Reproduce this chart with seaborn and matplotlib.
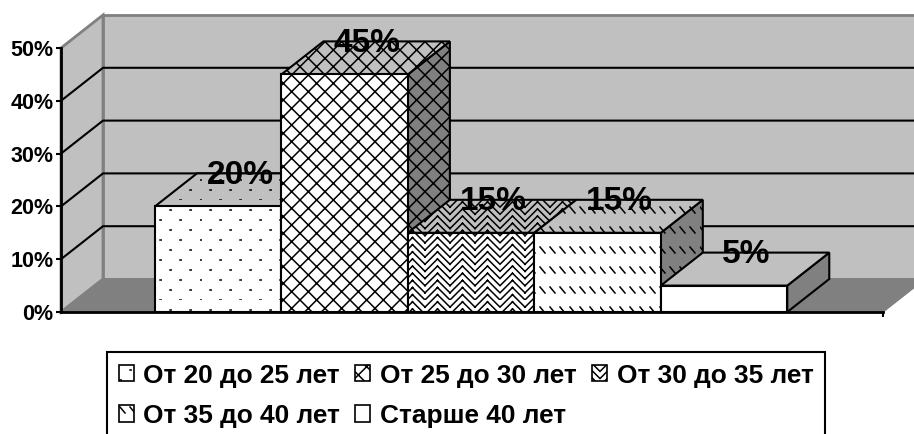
import numpy as np
import pandas as pd
import seaborn as sns
import matplotlib
matplotlib.use("Agg")
import matplotlib.pyplot as plt
from matplotlib import hatch as mhatch
from matplotlib.path import Path
from matplotlib.patches import Patch, Polygon, Rectangle

groups = ["От 20 до 25 лет", "От 25 до 30 лет", "От 30 до 35 лет", "От 35 до 40 лет", "Старше 40 лет"]
values = [20, 45, 15, 15, 5]
bar_labels = ["20%", "45%", "15%", "15%", "5%"]
y_ticks = [0, 10, 20, 30, 40, 50]
hatches = [".", "xx", "o", "O", ""]


# the patterns of the original have no matplotlib hatch, so swap in our own
def dot_segments():
    segs = []
    for row in range(10):
        for col in range(5):
            x = (col + 0.5 * (row % 2)) / 5
            segs.append(((x, row / 10), (x + 0.012, row / 10)))
    return segs


def herringbone_segments():
    segs = []
    for row in range(-2, 14):
        y = row / 14
        for col in range(8):
            x = col / 8
            up = col % 2 == 0
            segs.append(((x, y + (0 if up else 1 / 8)), (x + 1 / 8, y + (1 / 8 if up else 0))))
    return segs


def dash_segments():
    segs = []
    for row in range(5):
        for col in range(10):
            x = col / 10
            y = (row + 0.5) / 5
            segs.append(((x, y + 0.03), (x + 0.05, y - 0.03)))
    return segs


class SegmentHatch(mhatch.HatchPatternBase):
    def __init__(self, hatch, density):
        self.segs = []
        if "." in hatch:
            self.segs += dot_segments()
        if "o" in hatch:
            self.segs += herringbone_segments()
        if "O" in hatch:
            self.segs += dash_segments()
        self.num_vertices = len(self.segs) * 2

    def set_vertices_and_codes(self, vertices, codes):
        vertices[:] = np.array(self.segs).reshape(-1, 2)
        codes[0::2] = Path.MOVETO
        codes[1::2] = Path.LINETO


mhatch._hatch_types[:] = [mhatch.NorthEastHatch, mhatch.SouthEastHatch, SegmentHatch]

sns.set_style("white")
plt.rcParams["font.family"] = ["Liberation Sans", "DejaVu Sans"]
plt.rcParams["font.weight"] = "bold"
plt.rcParams["text.color"] = "black"
plt.rcParams["ytick.color"] = "black"
plt.rcParams["hatch.linewidth"] = 1.1

wall = "#c0c0c0"
floor = "#808080"
lw = 1.5

fig = plt.figure(figsize=(9.14, 4.34), dpi=100)
ax = fig.add_axes([61 / 914, (434 - 312) / 434, 822 / 914, 264 / 434])

df = pd.DataFrame({"group": groups, "value": values})
sns.barplot(data=df, x="group", y="value", hue="group", palette=["white"] * 5,
            width=1, edgecolor="black", linewidth=lw, legend=False, ax=ax)

x0, x1 = -1.243, 5.257
ax.set_xlim(x0, x1)
ax.set_ylim(0, 50)
# depth of the fake 3d box
dx = 42 / 822 * (x1 - x0)
dy = 33 / 264 * 50


def face(pts, fc, ec="black", h=None, z=1, width=lw):
    ax.add_patch(Polygon(pts, closed=True, facecolor=fc, edgecolor=ec, hatch=h,
                         linewidth=width, clip_on=False, zorder=z, joinstyle="miter"))


# walls and floor
top = y_ticks[-1]
far = x1 + dx
face([(x0, 0), (x0 + dx, dy), (x0 + dx, top + dy), (x0, top)], wall, floor, z=0.5, width=2)
face([(x0 + dx, dy), (far, dy), (far, top + dy), (x0 + dx, top + dy)], wall, floor, z=0.6, width=2)
face([(x0, 0), (x0 + dx, dy), (far, dy), (x1, 0)], floor, floor, z=0.7, width=1)
for v in y_ticks[1:-1]:
    ax.plot([x0, x0 + dx, far], [v, v + dy, v + dy], color="black", lw=lw, clip_on=False, zorder=0.8)

# bars go left to right so each one covers the sides of the one before
for i, (bar_box, h, txt) in enumerate(zip(ax.patches, hatches, bar_labels)):
    z = 2 + i
    left, right = bar_box.get_x(), bar_box.get_x() + bar_box.get_width()
    v = bar_box.get_height()
    bar_box.set_zorder(z + 0.2)
    bar_box.set_hatch(h)
    bar_box.set_clip_on(False)
    face([(right, 0), (right + dx, dy), (right + dx, v + dy), (right, v)], floor, h=h, z=z)
    face([(left, v), (left + dx, v + dy), (right + dx, v + dy), (right, v)], wall, h=h, z=z + 0.1)
    ax.annotate(txt, ((left + right + dx) / 2, v + dy), xytext=(1, -2), textcoords="offset pixels",
                ha="center", va="center", fontsize=24, fontweight="bold", zorder=20,
                annotation_clip=False, color="black")

sns.despine(ax=ax, top=True, right=True)
for side in ["left", "bottom"]:
    ax.spines[side].set_linewidth(2)
    ax.spines[side].set_color("black")
    ax.spines[side].set_zorder(15)
ax.set_yticks(y_ticks)
ax.set_yticklabels([f"{t}%" for t in y_ticks], fontsize=15.5, fontweight="bold", color="black")
ax.set_xticks([x1])
ax.set_xticklabels([""])
ax.tick_params(axis="both", which="major", length=3.5, width=1.5, color="black", left=True, bottom=True, pad=2)
ax.set_xlabel("")
ax.set_ylabel("")
ax.patch.set_visible(False)

handles = [Patch(facecolor="white", edgecolor="black", hatch=h, linewidth=1.2) for h in hatches]
# order of handles is column wise, the picture fills row wise
order = [0, 3, 1, 4, 2]
leg = fig.legend([handles[i] for i in order], [groups[i] for i in order], ncol=3,
                 loc="upper left", bbox_to_anchor=(107 / 914, 1 - 352 / 434),
                 frameon=False, labelcolor="black",
                 prop={"family": "Liberation Sans", "weight": "bold", "size": 18.9},
                 handlelength=0.57, handleheight=0.57, handletextpad=0.38, columnspacing=0.57,
                 labelspacing=0.62, borderpad=0.44, borderaxespad=0)
# the box of the original runs off the bottom of the picture
fig.add_artist(Rectangle((107 / 914, -0.05), (825 - 107) / 914, 1 - 352 / 434 + 0.05, fill=False,
                         edgecolor="black", linewidth=1.5, transform=fig.transFigure))

fig.savefig("out.png", dpi=100)
